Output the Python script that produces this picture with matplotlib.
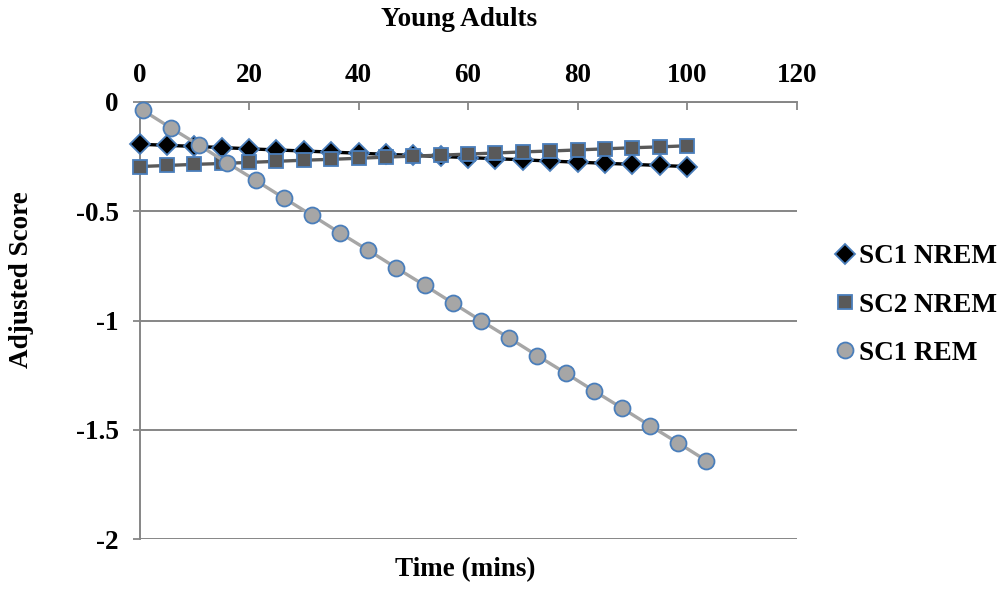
import matplotlib
matplotlib.use("Agg")
import matplotlib.pyplot as plt

# ---- data ----
nrem_x = [0, 5, 10, 15, 20, 25, 30, 35, 40, 45, 50, 55, 60, 65, 70, 75, 80, 85, 90, 95, 100]
sc1_nrem = [-0.195, -0.200, -0.205, -0.210, -0.216, -0.221, -0.226, -0.231, -0.236, -0.241,
            -0.246, -0.251, -0.256, -0.261, -0.266, -0.272, -0.277, -0.282, -0.287, -0.292, -0.297]
sc2_nrem = [-0.297, -0.292, -0.287, -0.283, -0.278, -0.273, -0.268, -0.264, -0.259, -0.254,
            -0.249, -0.245, -0.240, -0.235, -0.230, -0.226, -0.221, -0.216, -0.211, -0.207, -0.202]
rem_x = [0.6, 5.7, 10.9, 16.0, 21.2, 26.3, 31.5, 36.6, 41.8, 46.9, 52.1, 57.2, 62.3, 67.5,
         72.6, 77.8, 82.9, 88.1, 93.2, 98.4, 103.5]
sc1_rem = [-0.04, -0.12, -0.20, -0.28, -0.36, -0.44, -0.52, -0.60, -0.68, -0.76, -0.84,
           -0.92, -1.00, -1.08, -1.16, -1.24, -1.32, -1.40, -1.48, -1.56, -1.64]
series_names = ["SC1 NREM", "SC2 NREM", "SC1 REM"]
x_ticks = [0, 20, 40, 60, 80, 100, 120]
x_ticklabels = ["0", "20", "40", "60", "80", "100", "120"]
y_ticks = [0, -0.5, -1, -1.5, -2]
y_ticklabels = ["0", "-0.5", "-1", "-1.5", "-2"]
title = "Young Adults"
xlabel = "Time (mins)"
ylabel = "Adjusted Score"

plt.rcParams['font.family'] = ['Liberation Serif', 'DejaVu Serif']
plt.rcParams['font.weight'] = 'bold'
FS = 19.5
AX_C = '#868686'
EDGE = '#4A7EBB'

fig = plt.figure(figsize=(10.01, 5.92), dpi=100)
ax = fig.add_axes([0.1394, 0.0887, 0.6565, 0.7398])

l1, = ax.plot(nrem_x, sc1_nrem, color='black', lw=2.4, marker='D', ms=10,
              mfc='black', mec=EDGE, mew=1.3, clip_on=False, zorder=3)
l2, = ax.plot(nrem_x, sc2_nrem, color='#595959', lw=2.4, marker='s', ms=10,
              mfc='#595959', mec=EDGE, mew=1.3, clip_on=False, zorder=4)
l3, = ax.plot(rem_x, sc1_rem, color='#A6A6A6', lw=2.4, marker='o', ms=11.5,
              mfc='#A6A6A6', mec=EDGE, mew=1.3, clip_on=False, zorder=5)

ax.set_xlim(0, 120)
ax.set_ylim(-2, 0)

for s in ['right', 'bottom']:
    ax.spines[s].set_visible(False)
for s in ['top', 'left']:
    ax.spines[s].set_color(AX_C)
    ax.spines[s].set_linewidth(1.4)

ax.xaxis.tick_top()
ax.set_xticks(x_ticks)
ax.set_xticklabels(x_ticklabels, fontsize=FS, fontweight='bold')
ax.tick_params(axis='x', direction='in', length=6, width=1.3, color=AX_C, pad=10)
ax.set_yticks(y_ticks)
ax.set_yticklabels(y_ticklabels, fontsize=FS, fontweight='bold')
ax.tick_params(axis='y', direction='out', length=5, width=1.3, color=AX_C, pad=10)
ax.yaxis.grid(True, color=AX_C, lw=1.4)
ax.set_axisbelow(True)

fig.text(0.459, 1 - 26 / 592, title, ha='center', va='baseline', fontsize=FS, fontweight='bold')
fig.text(0.465, 1 - 570 / 592, xlabel, ha='center', va='center', fontsize=FS, fontweight='bold')
fig.text(22 / 1001, 1 - 280 / 592, ylabel, ha='center', va='center', rotation=90,
         fontsize=FS, fontweight='bold')

leg = fig.legend(handles=[l1, l2, l3], labels=series_names, loc='center left',
                 bbox_to_anchor=(845 / 1001, 1 - 305 / 592), frameon=False,
                 handlelength=0, handletextpad=0.5, borderpad=0, borderaxespad=0,
                 labelspacing=0.85, prop={'size': FS, 'weight': 'bold'})

fig.savefig('out.png', dpi=100)
